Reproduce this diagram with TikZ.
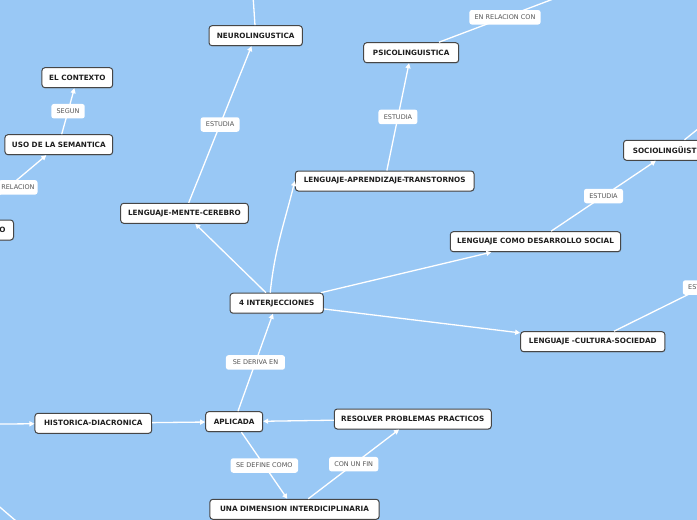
\documentclass[tikz,border=0pt]{standalone}
\usepackage{fontspec}
\setmainfont{DejaVu Sans}
\usetikzlibrary{arrows.meta,shadows}
\definecolor{mapBlue}{RGB}{153,200,245}
\definecolor{mapEdge}{RGB}{70,70,70}
\definecolor{mapText}{RGB}{30,30,30}
\definecolor{mapLabel}{RGB}{85,85,85}

\begin{document}
\begin{tikzpicture}[x=1pt, y=-1pt,
      topic/.style={rectangle, rounded corners=3pt, draw=mapEdge, line width=1pt,
        fill=white, minimum height=20pt, inner xsep=4pt, inner ysep=0pt,
        text=mapText, font=\fontsize{7.25}{8}\selectfont\bfseries,
        drop shadow={shadow xshift=0.5pt, shadow yshift=-0.8pt, opacity=0.25}},
      lnk/.style={rectangle, rounded corners=2.5pt, fill=white, minimum height=14.5pt,
        inner xsep=3pt, inner ysep=0pt, text=mapLabel,
        font=\fontsize{6.5}{7}\selectfont},
      arr/.style={-{Triangle[length=5pt,width=5pt]}, draw=white, line width=1.3pt},
      plainln/.style={draw=white, line width=1.3pt},
    ]
    \useasboundingbox (0,0) rectangle (697,520);
    \fill[mapBlue] (0,0) rectangle (697,520);
    \clip (0,0) rectangle (697,520);

    % ---- centre and the branches above it ----
    \node[topic, minimum width=93.3pt] (inter) at (276.7,303.2) {4 INTERJECCIONES};
    \node[topic, minimum width=127.6pt] (lmc) at (184.5,213.3) {LENGUAJE-MENTE-CEREBRO};
    \node[topic, minimum width=93.3pt] (neuro) at (255.7,35.7) {NEUROLINGUSTICA};
    \node[topic, minimum width=178.7pt] (lat) at (384.7,181) {LENGUAJE-APRENDIZAJE-TRANSTORNOS};
    \node[topic, minimum width=95pt] (psico) at (411.2,52.7) {PSICOLINGUISTICA};
    \node[topic, minimum width=170.4pt] (lcds) at (535.5,241.7) {LENGUAJE COMO DESARROLLO SOCIAL};
    \node[topic, anchor=west, minimum width=96pt] (socio) at (623,150.3) {SOCIOLINGÜISTICA};
    \node[topic, minimum width=144.3pt] (lcs) at (592.8,341.7) {LENGUAJE -CULTURA-SOCIEDAD};

    % ---- left side ----
    \node[topic, minimum width=107.7pt] (uso) at (58.8,144.7) {USO DE LA SEMANTICA};
    \node[topic, minimum width=70.7pt] (ctx) at (77.3,77.7) {EL CONTEXTO};
    \node[topic, anchor=east, text width=96pt, inner xsep=8pt, align=right] (osem) at (14,230) {O};

    % ---- bottom row ----
    \node[topic, minimum width=116.7pt] (hist) at (93.3,423.3) {HISTORICA-DIACRONICA};
    \node[topic, minimum width=57pt] (apl) at (234.2,421.7) {APLICADA};
    \node[topic, minimum width=157pt] (res) at (412.8,419) {RESOLVER PROBLEMAS PRACTICOS};
    \node[topic, minimum width=169.3pt] (una) at (294.5,509.3) {UNA DIMENSION INTERDICIPLINARIA};

    % ends that leave the picture
    \coordinate (neuroTop) at (246.1,-107);
    \coordinate (psicoTop) at (571,-7.7);
    \coordinate (socioTop) at (740,95);
    \coordinate (lcsTop) at (790.6,243.9);
    \coordinate (histIn) at (-60,424.5);
    \coordinate (cornerA) at (-20,490);
    \coordinate (cornerB) at (30,533);

    \draw[arr] (lmc) -- node[lnk, minimum width=39pt]{ESTUDIA} (neuro);
    \draw[plainln] (neuro) -- (neuroTop);
    \draw[arr] (lat) -- node[lnk, minimum width=39pt]{ESTUDIA} (psico);
    \draw[arr] (psico) -- node[lnk, minimum width=71.3pt]{EN RELACION CON} (psicoTop);
    \draw[arr] (lcds) -- node[lnk, minimum width=39pt]{ESTUDIA} (socio);
    \draw[plainln] (socio) -- (socioTop);
    \draw[arr] (lcs) -- node[lnk, minimum width=39pt]{ESTUDIA} (lcsTop);

    \draw[arr] (inter) -- (lmc);
    \draw[arr] ([xshift=-6.5pt]inter.north) to[out=84, in=-104] (lat.west);
    \draw[arr] (inter) -- (lcds);
    \draw[arr] (inter) -- (lcs);

    \draw[arr] (uso) -- node[lnk, minimum width=33.4pt]{SEGUN} (ctx);
    \draw[arr] (osem) -- node[lnk, xshift=9.8pt]{RELACION} (uso);

    \draw[arr] (histIn) -- (hist);
    \draw[arr] (hist) -- (apl);
    \draw[arr] (res) -- (apl);
    \draw[arr] (apl) -- node[lnk, minimum width=59pt]{SE DERIVA EN} (inter);
    \draw[arr] (apl) -- node[lnk, minimum width=67.3pt]{SE DEFINE COMO} (una);
    \draw[arr] (una) -- node[lnk, minimum width=49.3pt]{CON UN FIN} (res);
    \draw[plainln] (cornerA) -- (cornerB);
  \end{tikzpicture}
\end{document}
